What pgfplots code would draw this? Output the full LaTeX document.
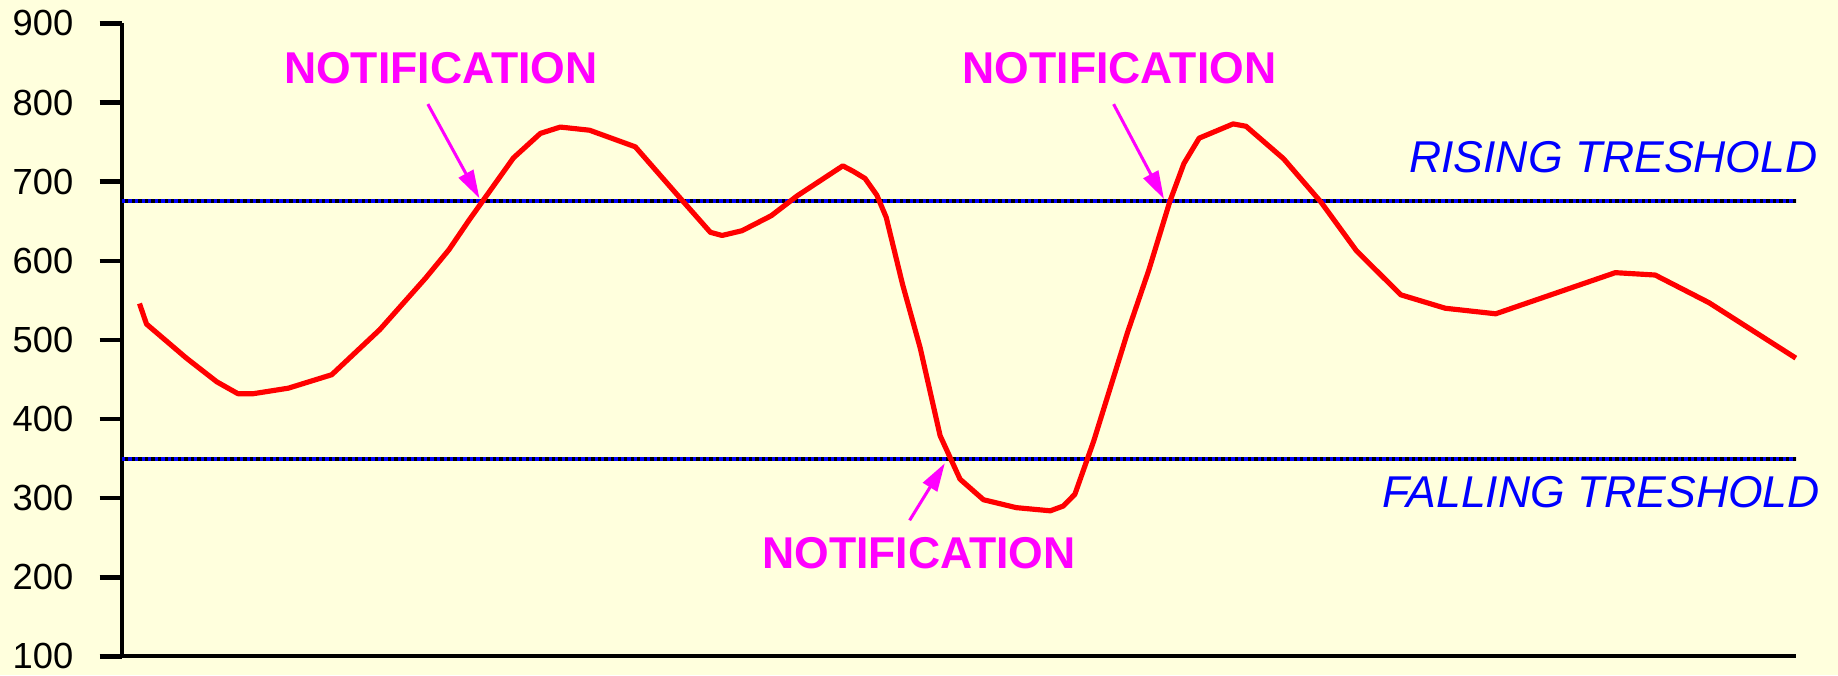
\documentclass[border=0pt]{standalone}
\usepackage{pgfplots}
\pgfplotsset{compat=1.18}
\usepackage{fontspec}
\setmainfont{Liberation Sans}
\usetikzlibrary{arrows.meta,backgrounds}
\definecolor{bgcol}{RGB}{255,255,221}
\definecolor{mag}{RGB}{255,0,255}
\definecolor{tblue}{RGB}{0,0,255}
\pgfplotstableread{
x y
119 546
125 520
159 477
185 447
203 432
216 432
246 439
283 456
324 513
363 578
383 614
400 651
438 730
461 761
478 769
503 765
542 744
578 683
606 636
616 632
633 638
658 657
680 682
719 720
728 713
738 704
748 683
756 655
770 570
785 490
802 379
819 324
839 298
867 288
896 284
907 290
917 305
933 372
962 510
980 588
998 675
1010 723
1023 755
1052 773
1063 770
1095 729
1127 674
1157 613
1195 557
1233 540
1276 533
1378 585
1412 582
1458 547
1532 477
}\curvedata
\begin{document}
\begin{tikzpicture}
\begin{axis}[
  scale only axis, width=714pt, height=270pt,
  xmin=104, xmax=1532, ymin=100, ymax=900,
  clip=false,
  axis lines*=left,
  axis line style={line width=1.7pt, black},
  xtick=\empty,
  ytick={100,200,...,900},
  tick align=outside,
  major tick length=9.5pt,
  tick style={line width=1.9pt, black},
  yticklabel style={font=\fontsize{15.5}{17}\selectfont, inner sep=0pt, xshift=-11pt},
  /pgf/number format/assume math mode=true,
]
\addplot[black, line width=1.7pt] coordinates {(104,675) (1532,675)};
\addplot[tblue, line width=1.7pt, dash pattern=on 1.4pt off 1.4pt] coordinates {(104,675) (1532,675)};
\addplot[black, line width=1.7pt] coordinates {(104,350) (1532,350)};
\addplot[tblue, line width=1.7pt, dash pattern=on 1.4pt off 1.4pt] coordinates {(104,350) (1532,350)};

\addplot[red, line width=2.2pt, line join=round] table[x=x,y=y] {\curvedata};

\draw[mag, line width=1.3pt, -{Triangle[length=12pt,width=7pt]}] (axis cs:365,798) -- (axis cs:409,679);
\draw[mag, line width=1.3pt, -{Triangle[length=12pt,width=7pt]}] (axis cs:950,798) -- (axis cs:993,678);
\draw[mag, line width=1.3pt, -{Triangle[length=12pt,width=7pt]}] (axis cs:776,272) -- (axis cs:806,344);

\node[mag, font=\fontsize{19}{22}\selectfont\bfseries, inner sep=0pt] at (axis cs:376,844) {NOTIFICATION};
\node[mag, font=\fontsize{19}{22}\selectfont\bfseries, inner sep=0pt] at (axis cs:955,844) {NOTIFICATION};
\node[mag, font=\fontsize{19}{22}\selectfont\bfseries, inner sep=0pt] at (axis cs:784,230) {NOTIFICATION};

\node[tblue, font=\fontsize{19}{22}\selectfont\itshape, inner sep=0pt, anchor=east] at (axis cs:1551,731) {RISING TRESHOLD};
\node[tblue, font=\fontsize{19}{22}\selectfont\itshape, inner sep=0pt, anchor=east] at (axis cs:1553,307) {FALLING TRESHOLD};

\coordinate (bgSW) at (axis cs:0,76.3);
\coordinate (bgNE) at (axis cs:1568,929.6);
\end{axis}
\begin{scope}[on background layer]
\fill[bgcol] (bgSW) rectangle (bgNE);
\end{scope}
\pgfresetboundingbox
\useasboundingbox (bgSW) rectangle (bgNE);
\end{tikzpicture}
\end{document}
